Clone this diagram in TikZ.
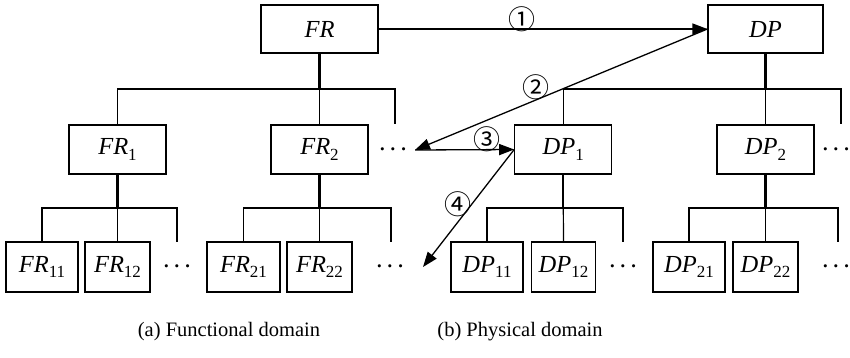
\documentclass[tikz,border=0pt]{standalone}
\usepackage{fontspec}
\setmainfont{Liberation Serif}
\newfontfamily\cjk{Noto Sans CJK SC}
\usetikzlibrary{arrows.meta}
\newcommand\sbs[1]{\raisebox{-0.22em}{\fontsize{17}{17}\selectfont #1}}
\newcommand\mydots{{\boldmath$\cdots$}}
\begin{document}
\begin{tikzpicture}[x=1pt,y=-1pt,
 box/.style={draw, line width=1.2pt, minimum height=48pt, inner sep=0pt, font=\fontsize{24.5}{24.5}\selectfont, anchor=center},
 thk/.style={line width=2.2pt},
 thn/.style={line width=1.2pt},
 arr/.style={line width=1.3pt, -{Triangle[length=15pt,width=11pt]}},
 num/.style={font=\cjk\fontsize{27}{27}\selectfont, inner sep=0pt},
 dts/.style={font=\fontsize{19.5}{19.5}\selectfont, inner sep=0pt},
 capt/.style={font=\fontsize{20.5}{20.5}\selectfont, inner sep=0pt}]
\useasboundingbox (0,0) rectangle (850,357);
% top level
\node[box, minimum width=117pt] (FR) at (319.5,29) {\textit{FR}};
\node[box, minimum width=115pt] (DP) at (765.5,29) {\textit{DP}};
% level 1
\node[box, minimum width=97pt, minimum height=49pt] (FR1) at (117.5,149.5) {\textit{FR}\sbs{1}};
\node[box, minimum width=97pt, minimum height=49pt] (FR2) at (319.5,149.5) {\textit{FR}\sbs{2}};
\node[box, minimum width=97pt, minimum height=49pt] (DP1) at (563.3,149.5) {\textit{DP}\sbs{1}};
\node[box, minimum width=97pt, minimum height=49pt] (DP2) at (765.5,149.5) {\textit{DP}\sbs{2}};
% level 2
\node[box, minimum width=72pt, minimum height=50pt] (FR11) at (42,267) {\textit{FR}\sbs{11}};
\node[box, minimum width=65pt, minimum height=50pt] (FR12) at (117.5,267) {\textit{FR}\sbs{12}};
\node[box, minimum width=73pt, minimum height=50pt] (FR21) at (243.5,267) {\textit{FR}\sbs{21}};
\node[box, minimum width=65pt, minimum height=50pt] (FR22) at (319.5,267) {\textit{FR}\sbs{22}};
\node[box, minimum width=72pt, minimum height=50pt] (DP11) at (487,267) {\textit{DP}\sbs{11}};
\node[box, minimum width=64pt, minimum height=50pt] (DP12) at (563.5,267) {\textit{DP}\sbs{12}};
\node[box, minimum width=72pt, minimum height=50pt] (DP21) at (689,267) {\textit{DP}\sbs{21}};
\node[box, minimum width=65pt, minimum height=50pt] (DP22) at (765.5,267) {\textit{DP}\sbs{22}};
% dots
\node[dts] (d1) at (393,150) {\mydots};
\node[dts] (d2) at (836,150) {\mydots};
\node[dts] (d11) at (177,267) {\mydots};
\node[dts] (d21) at (390,267) {\mydots};
\node[dts] (d31) at (623,267) {\mydots};
\node[dts] (d41) at (836,267) {\mydots};
% stub ends
\coordinate (FRe) at (395,124);
\coordinate (DPe) at (841,124);
\coordinate (FR1e) at (177,242);
\coordinate (FR2e) at (391,242);
\coordinate (DP1e) at (623,242);
\coordinate (DP2e) at (838,242);
% tree connectors
\draw[thk] (FR.south) -- (FR.south |- 0,89) coordinate (FRj);
\draw[thn] (FR1.north) |- (FRj) -| (FRe);
\draw[thn] (FRj) -- (FR2.north);
\draw[thk] (DP.south) -- (DP.south |- 0,89) coordinate (DPj);
\draw[thn] (DP1.north) |- (DPj) -| (DPe);
\draw[thn] (DPj) -- (DP2.north);
\draw[thk] (FR1.south) -- (FR1.south |- 0,208) coordinate (FR1j);
\draw[thn] (FR11.north) |- (FR1j) -| (FR1e);
\draw[thn] (FR1j) -- (FR12.north);
\draw[thk] (FR2.south) -- (FR2.south |- 0,208) coordinate (FR2j);
\draw[thn] (FR21.north) |- (FR2j) -| (FR2e);
\draw[thn] (FR2j) -- (FR22.north);
\draw[thk] (DP1.south) -- (DP1.south |- 0,208) coordinate (DP1j);
\draw[thn] (DP11.north) |- (DP1j) -| (DP1e);
\draw[thn] (DP1j) -- (DP12.north);
\draw[thk] (DP2.south) -- (DP2.south |- 0,208) coordinate (DP2j);
\draw[thn] (DP21.north) |- (DP2j) -| (DP2e);
\draw[thn] (DP2j) -- (DP22.north);
% mapping arrows
\coordinate (a2) at (415,150);
\coordinate (a4) at (423,267);
\draw[arr] (FR.east) -- (DP.west);
\draw[arr] (DP.west) -- (a2);
\draw[arr] (a2) -- (DP1.west);
\draw[arr] (DP1.west) -- (a4);
\node[num] (n1) at (522,19) {①};
\node[num] (n2) at (536,87) {②};
\node[num] (n3) at (487,139) {③};
\node[num] (n4) at (458,204) {④};
% captions
\node[capt] (ca) at (229,332) {(a) Functional domain};
\node[capt] (cb) at (520,332) {(b) Physical domain};
\end{tikzpicture}
\end{document}
